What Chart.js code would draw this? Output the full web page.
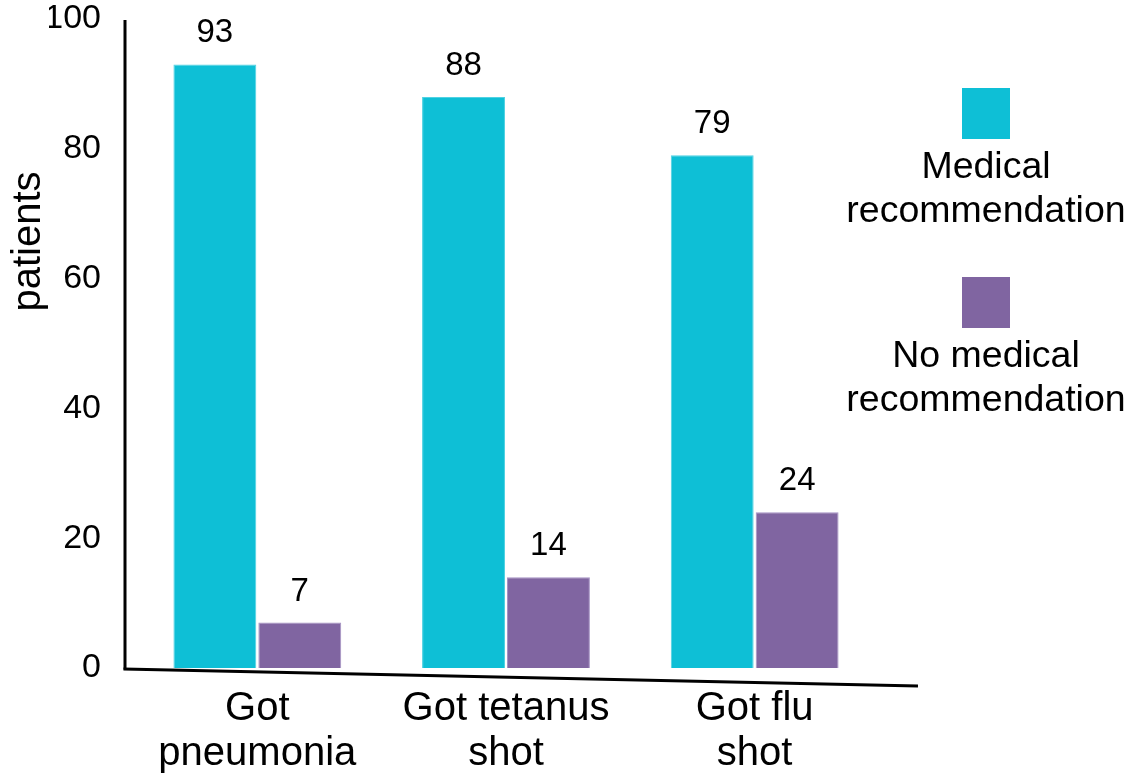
<!DOCTYPE html>
<html>
<head>
<meta charset="utf-8">
<script src="https://cdn.jsdelivr.net/npm/chart.js@4.4.1/dist/chart.umd.min.js"></script>
<style>
  html, body { margin: 0; padding: 0; background: #fff; overflow: hidden; }
  #wrap { position: relative; width: 1129px; height: 776px; }
</style>
</head>
<body>
<div id="wrap"><canvas id="c"></canvas></div>
<script>
// Categories (two-line labels under each group)
const categories = [['Got', 'pneumonia'], ['Got tetanus', 'shot'], ['Got flu', 'shot']];
// Series
const seriesNames = ['Medical recommendation', 'No medical recommendation'];
const legendLines = [['Medical', 'recommendation'], ['No medical', 'recommendation']];
const medical = [93, 88, 79];
const noMedical = [7, 14, 24];
// Value axis
const yTicks = [0, 20, 40, 60, 80, 100];
const axisTitle = 'patients';

const colors = ['#0ebfd6', '#8065a1'];
const edgeColors = ['#4fd2e3', '#a592c4'];
const FONT = "'Liberation Sans', Arial, sans-serif";

// Axis lines, value labels, side legend and the rotated axis title
const decor = {
  id: 'decor',
  beforeDatasetsDraw(chart) {
    const { ctx, chartArea, scales: { y } } = chart;
    const y0 = y.getPixelForValue(yTicks[0]);
    const yTop = y.getPixelForValue(yTicks[yTicks.length - 1]);
    const ax = chartArea.left - 8;
    ctx.save();
    ctx.strokeStyle = '#000';
    ctx.lineWidth = 3;
    ctx.beginPath();
    ctx.moveTo(ax, yTop + 1);
    ctx.lineTo(ax, y0 + 1.5);
    ctx.stroke();
    ctx.beginPath();
    ctx.moveTo(ax - 1.5, y0 + 1);
    ctx.lineTo(chartArea.right + 39, y0 + 18);
    ctx.stroke();
    ctx.restore();
  },
  afterDatasetsDraw(chart) {
    const { ctx } = chart;
    ctx.save();
    ctx.fillStyle = '#000';
    ctx.font = '33px ' + FONT;
    ctx.textAlign = 'center';
    ctx.textBaseline = 'alphabetic';
    chart.data.datasets.forEach((ds, di) => {
      const meta = chart.getDatasetMeta(di);
      meta.data.forEach((bar, i) => {
        ctx.fillText(String(ds.data[i]), bar.x, bar.y - 22);
      });
    });
    ctx.restore();
  },
  afterDraw(chart) {
    const { ctx, chartArea } = chart;
    ctx.save();
    // legend: colour square with the series name centred underneath
    const cx = chartArea.right + 107;
    ctx.font = '37.5px ' + FONT;
    ctx.textAlign = 'center';
    ctx.textBaseline = 'alphabetic';
    chart.data.datasets.forEach((ds, di) => {
      const top = 88 + di * 189;
      ctx.fillStyle = ds.backgroundColor;
      ctx.fillRect(cx - 24, top, 48, 51);
      ctx.fillStyle = '#000';
      legendLines[di].forEach((line, k) => {
        ctx.fillText(line, cx, top + 51 + 39 + k * 44);
      });
    });
    // axis title
    ctx.translate(29, 241.5);
    ctx.rotate(-Math.PI / 2);
    ctx.font = '40px ' + FONT;
    ctx.textBaseline = 'middle';
    ctx.fillText(axisTitle, 0, 0);
    ctx.restore();
  }
};

new Chart(document.getElementById('c'), {
  type: 'bar',
  data: {
    labels: categories,
    datasets: [
      { label: seriesNames[0], data: medical, backgroundColor: colors[0], borderColor: edgeColors[0], borderWidth: 1 },
      { label: seriesNames[1], data: noMedical, backgroundColor: colors[1], borderColor: edgeColors[1], borderWidth: 1 }
    ]
  },
  options: {
    responsive: true,
    maintainAspectRatio: false,
    animation: false,
    datasets: { bar: { categoryPercentage: 0.683, barPercentage: 0.976 } },
    layout: { padding: { left: 49, right: 250, top: 19, bottom: 0 } },
    plugins: { legend: { display: false }, tooltip: { enabled: false } },
    scales: {
      x: {
        grid: { display: false, drawTicks: false },
        border: { display: false },
        ticks: { color: '#000', font: { family: FONT, size: 40, lineHeight: 1.125 }, padding: 18, maxRotation: 0, autoSkip: false },
        afterFit(s) { s.height = 108; s.paddingLeft = 0; s.paddingRight = 0; }
      },
      y: {
        min: yTicks[0],
        max: yTicks[yTicks.length - 1],
        grid: { display: false, drawTicks: false },
        border: { display: false },
        ticks: { stepSize: yTicks[1] - yTicks[0], color: '#000', font: { family: FONT, size: 34 }, padding: 32 },
        afterFit(s) { s.width = 84; s.paddingTop = 0; s.paddingBottom = 0; }
      }
    }
  },
  plugins: [decor]
});
</script>
</body>
</html>
